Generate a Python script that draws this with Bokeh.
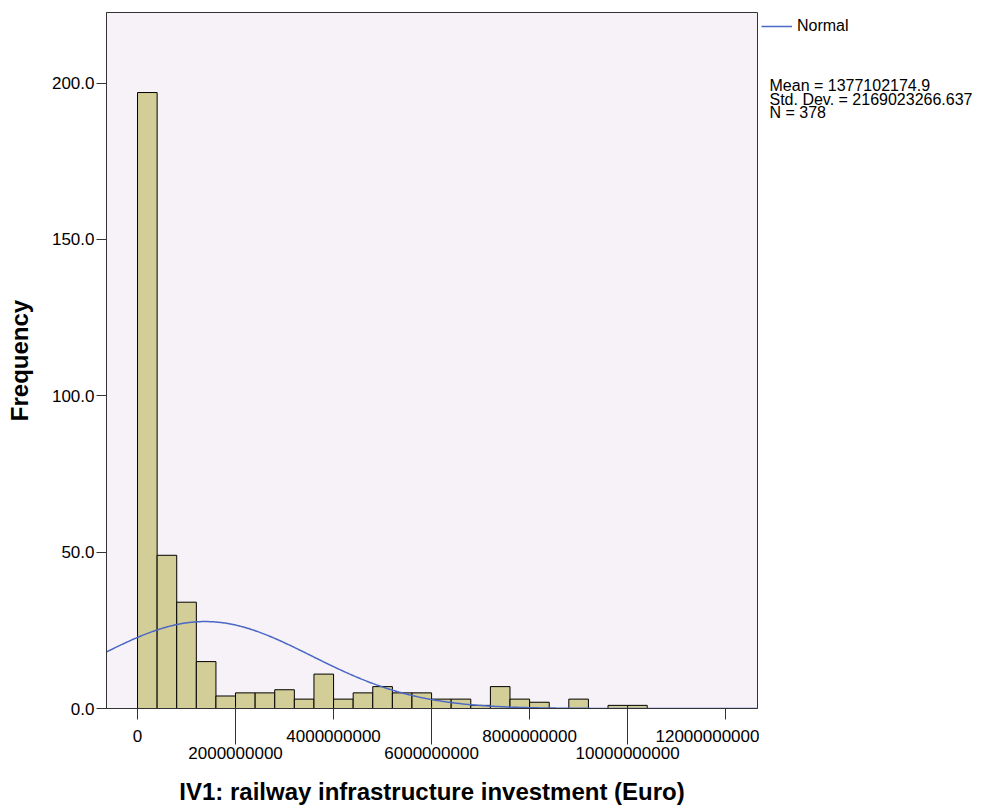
import numpy as np
from bokeh.plotting import figure
from bokeh.layouts import row
from bokeh.models import (Range1d, LinearAxis, FixedTicker, Legend, LegendItem, Label)
from bokeh.embed import file_html
from bokeh.resources import INLINE

# ---- data ----
counts = [197, 49, 34, 15, 4, 5, 5, 6, 3, 11, 3, 5, 7, 5, 5, 3, 3, 1, 7, 3, 2, 0, 3, 0, 1, 1]
bin_width = 4e8
bin_lefts = [i * bin_width for i in range(len(counts))]
bin_rights = [b + bin_width for b in bin_lefts]

mean_value = 1377102174.9
std_dev = 2169023266.637
n_obs = 378

y_ticks = [0, 50, 100, 150, 200]
y_tick_labels = ["0.0", "50.0", "100.0", "150.0", "200.0"]
x_ticks_upper = [0, 4e9, 8e9, 12e9]
x_labels_upper = ["0", "4000000000", "8000000000", "12000000000"]
x_ticks_lower = [2e9, 6e9, 10e9]
x_labels_lower = ["2000000000", "6000000000", "10000000000"]

stats_lines = ["Mean = 1377102174.9", "Std. Dev. = 2169023266.637", "N = 378"]

x_lo, x_hi = -0.633e9, 12.65e9
y_lo, y_hi = 0, 222.6

FONT = "Liberation Sans"
AX = "#333333"
CURVE = "#4A67C6"
H = 807
TOP = 12
FRAME_H = 700
BOTTOM = H - TOP - FRAME_H
FRAME_BOTTOM = TOP + FRAME_H

p = figure(width=759, height=H,
           x_range=Range1d(x_lo, x_hi), y_range=Range1d(y_lo, y_hi),
           x_axis_location=None, y_axis_location=None,
           output_backend="svg", toolbar_location=None,
           min_border_left=106, min_border_right=2,
           min_border_top=TOP, min_border_bottom=BOTTOM)
p.background_fill_color = "#F7F2F7"
p.border_fill_color = "white"
p.outline_line_color = AX
p.outline_line_width = 1
for g in p.grid:
    g.visible = False

# bars
p.quad(left=bin_lefts, right=bin_rights, bottom=0, top=counts,
       fill_color="#D3CE97", line_color="black", line_width=1)

# normal curve from the stated parameters
xs = np.linspace(x_lo, x_hi, 500)
ys = n_obs * bin_width * np.exp(-0.5 * ((xs - mean_value) / std_dev) ** 2) / (std_dev * np.sqrt(2 * np.pi))
curve = p.line(xs, ys, line_color=CURVE, line_width=1.5)

# y axis
yaxis = LinearAxis(ticker=FixedTicker(ticks=y_ticks),
                   major_label_overrides={t: l for t, l in zip(y_ticks, y_tick_labels)},
                   axis_label="Frequency")
yaxis.axis_line_color = AX
yaxis.major_tick_line_color = AX
yaxis.minor_tick_line_color = None
yaxis.major_tick_in = 0
yaxis.major_tick_out = 10
yaxis.major_label_standoff = 2
yaxis.major_label_text_font = FONT
yaxis.major_label_text_font_size = "17px"
yaxis.major_label_text_color = "black"
yaxis.axis_label_text_font = FONT
yaxis.axis_label_text_font_size = "24px"
yaxis.axis_label_text_font_style = "bold"
yaxis.axis_label_text_color = "black"
yaxis.axis_label_standoff = 16
p.add_layout(yaxis, "left")

# x axis: upper row of labels (short ticks)
xaxis1 = LinearAxis(ticker=FixedTicker(ticks=x_ticks_upper),
                    major_label_overrides={t: l for t, l in zip(x_ticks_upper, x_labels_upper)})
xaxis1.axis_line_color = AX
xaxis1.major_tick_line_color = AX
xaxis1.minor_tick_line_color = None
xaxis1.major_tick_in = 0
xaxis1.major_tick_out = 11
xaxis1.major_label_standoff = 10
xaxis1.major_label_text_font = FONT
xaxis1.major_label_text_font_size = "17px"
xaxis1.major_label_text_color = "black"
p.add_layout(xaxis1, "below")

# x axis: lower row of labels (long ticks)
xaxis2 = LinearAxis(ticker=FixedTicker(ticks=x_ticks_lower),
                    major_label_overrides={t: l for t, l in zip(x_ticks_lower, x_labels_lower)},
                    axis_label="IV1: railway infrastructure investment (Euro)")
xaxis2.axis_line_color = None
xaxis2.major_tick_line_color = AX
xaxis2.minor_tick_line_color = None
xaxis2.major_tick_in = 38
xaxis2.major_tick_out = 0
xaxis2.major_label_standoff = 2
xaxis2.major_label_text_font = FONT
xaxis2.major_label_text_font_size = "17px"
xaxis2.major_label_text_color = "black"
xaxis2.axis_label_text_font = FONT
xaxis2.axis_label_text_font_size = "24px"
xaxis2.axis_label_text_font_style = "bold"
xaxis2.axis_label_text_color = "black"
xaxis2.axis_label_standoff = 16
p.add_layout(xaxis2, "below")

# right-hand panel: legend and statistics (same top/bottom borders as the main plot)
W2 = 237
p2 = figure(width=W2, height=H, x_range=Range1d(0, W2), y_range=Range1d(0, FRAME_H),
            x_axis_location=None, y_axis_location=None,
            output_backend="svg", toolbar_location=None,
            min_border_left=0, min_border_right=0,
            min_border_top=TOP, min_border_bottom=BOTTOM)
p2.outline_line_color = None
p2.background_fill_color = "white"
p2.border_fill_color = "white"
for g in p2.grid:
    g.visible = False
# single-point line: draws nothing itself, only provides the legend glyph style
legend_line = p2.line(x=[0], y=[0], line_color=CURVE, line_width=1.5)

legend = Legend(items=[LegendItem(label="Normal", renderers=[legend_line])],
                location=(2, FRAME_BOTTOM - 40), margin=0, padding=0, spacing=0,
                glyph_width=31, glyph_height=20, label_standoff=5,
                label_text_font=FONT, label_text_font_size="16px",
                label_text_color="black",
                border_line_color=None, background_fill_alpha=0)
p2.add_layout(legend)

stat_centers = [89, 102.5, 116]
for txt, yc in zip(stats_lines, stat_centers):
    p2.add_layout(Label(x=10, y=FRAME_BOTTOM - yc, x_units="screen", y_units="screen", text=txt,
                        text_baseline="middle", text_align="left",
                        text_font=FONT, text_font_size="16px", text_color="black"))

layout = row(p, p2)
open("out.html", "w").write(file_html(layout, INLINE))
